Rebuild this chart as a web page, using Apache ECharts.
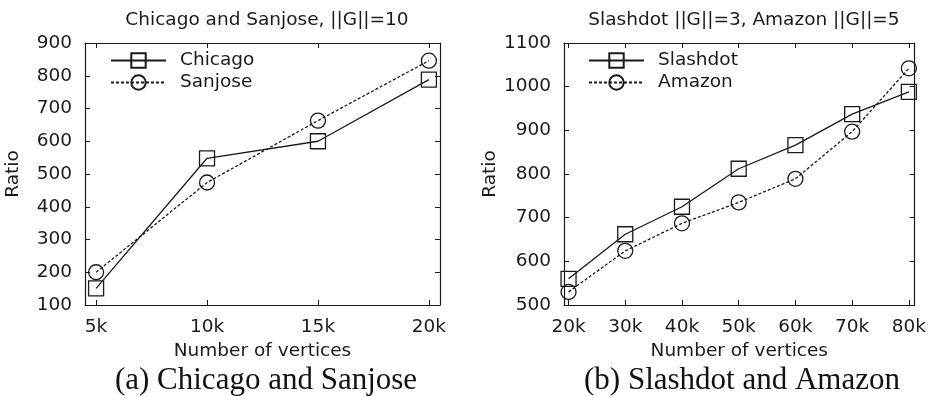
<!DOCTYPE html>
<html>
<head>
<meta charset="utf-8">
<script src="https://cdn.jsdelivr.net/npm/echarts@6/dist/echarts.min.js"></script>
<style>
  html, body { margin: 0; padding: 0; background: #fff; }
  #chart { width: 929px; height: 396px; }
</style>
</head>
<body>
<div id="chart"></div>
<script>
// (a) Chicago and Sanjose
var leftX = [5, 10, 15, 20];
var chicago = [151, 548, 600, 788];
var sanjose = [200, 474, 663, 846];

// (b) Slashdot and Amazon
var rightX = [20, 30, 40, 50, 60, 70, 80];
var slashdot = [560, 662, 725, 812, 866, 937, 988];
var amazon = [530, 624, 687, 735, 789, 897, 1042];

var ink = "#1a1a1a";
var sans = "DejaVu Sans";
var fs = 18.5;

function pairs(xs, ys) {
  return xs.map(function (x, i) { return [x, ys[i]]; });
}

function xAxisFor(gridIndex, min, max, ticks, mirror) {
  return {
    type: "value",
    gridIndex: gridIndex,
    position: mirror ? "top" : "bottom",
    min: min,
    max: max,
    name: mirror ? "" : "Number of vertices",
    nameLocation: "middle",
    nameGap: 36,
    nameTextStyle: { color: ink, fontFamily: sans, fontSize: fs },
    axisLine: { show: true, onZero: false, lineStyle: { color: ink, width: 1.2 } },
    axisTick: { show: true, inside: true, length: 5, customValues: ticks, lineStyle: { color: ink } },
    axisLabel: {
      show: !mirror,
      customValues: ticks,
      margin: 13,
      color: ink,
      fontFamily: sans,
      fontSize: fs,
      formatter: function (v) { return v + "k"; },
    },
    splitLine: { show: false },
  };
}

function yAxisFor(gridIndex, min, max, mirror) {
  return {
    type: "value",
    gridIndex: gridIndex,
    position: mirror ? "right" : "left",
    min: min,
    max: max,
    interval: 100,
    name: mirror ? "" : "Ratio",
    nameLocation: "middle",
    nameGap: 62,
    nameTextStyle: { color: ink, fontFamily: sans, fontSize: fs },
    axisLine: { show: true, onZero: false, lineStyle: { color: ink, width: 1.2 } },
    axisTick: { show: true, inside: true, length: 5, lineStyle: { color: ink } },
    axisLabel: {
      show: !mirror,
      margin: 13,
      color: ink,
      fontFamily: sans,
      fontSize: fs,
      formatter: function (v) { return String(v); },
    },
    splitLine: { show: false },
  };
}

function lineSeries(name, xIdx, yIdx, data, symbol, dashed) {
  return {
    name: name,
    type: "line",
    xAxisIndex: xIdx,
    yAxisIndex: yIdx,
    data: data,
    symbol: symbol,
    symbolSize: 15,
    showAllSymbol: true,
    lineStyle: { color: ink, width: 1.3, type: dashed ? [3, 2] : "solid" },
    itemStyle: { color: "rgba(0,0,0,0)", borderColor: ink, borderWidth: 1.3 },
    emphasis: { disabled: true },
    z: 3,
  };
}

function legendFor(names, left) {
  return {
    data: names,
    orient: "vertical",
    left: left,
    top: 51,
    padding: 0,
    itemWidth: 55,
    itemHeight: 18,
    itemGap: 3,
    textStyle: { color: ink, fontFamily: sans, fontSize: fs, padding: [0, 0, 0, 9] },
  };
}

var chart = echarts.init(document.getElementById("chart"), null, { renderer: "canvas" });

var option = {
  backgroundColor: "#fff",
  animation: false,
  title: [
    { text: "Chicago and Sanjose, ||G||=10", left: 262, top: 6, textAlign: "center",
      textStyle: { color: ink, fontFamily: sans, fontSize: fs, fontWeight: "normal" } },
    { text: "Slashdot ||G||=3, Amazon ||G||=5", left: 739, top: 6, textAlign: "center",
      textStyle: { color: ink, fontFamily: sans, fontSize: fs, fontWeight: "normal" } },
    { text: "(a) Chicago and Sanjose", left: 261, top: 360, textAlign: "center",
      textStyle: { color: "#111", fontFamily: "Liberation Serif", fontSize: 31, fontWeight: "normal" } },
    { text: "(b) Slashdot and Amazon", left: 737, top: 360, textAlign: "center",
      textStyle: { color: "#111", fontFamily: "Liberation Serif", fontSize: 31, fontWeight: "normal" } },
  ],
  legend: [
    legendFor(["Chicago", "Sanjose"], 110),
    legendFor(["Slashdot", "Amazon"], 588),
  ],
  grid: [
    { left: 85, top: 43, width: 355, height: 262 },
    { left: 564, top: 43, width: 351, height: 262 },
  ],
  xAxis: [
    xAxisFor(0, 4.5, 20.5, leftX, false),
    xAxisFor(0, 4.5, 20.5, leftX, true),
    xAxisFor(1, 19.2, 81, rightX, false),
    xAxisFor(1, 19.2, 81, rightX, true),
  ],
  yAxis: [
    yAxisFor(0, 100, 900, false),
    yAxisFor(0, 100, 900, true),
    yAxisFor(1, 500, 1100, false),
    yAxisFor(1, 500, 1100, true),
  ],
  series: [
    lineSeries("Chicago", 0, 0, pairs(leftX, chicago), "rect", false),
    lineSeries("Sanjose", 0, 0, pairs(leftX, sanjose), "circle", true),
    lineSeries("Slashdot", 2, 2, pairs(rightX, slashdot), "rect", false),
    lineSeries("Amazon", 2, 2, pairs(rightX, amazon), "circle", true),
  ],
};

chart.setOption(option);
</script>
</body>
</html>
